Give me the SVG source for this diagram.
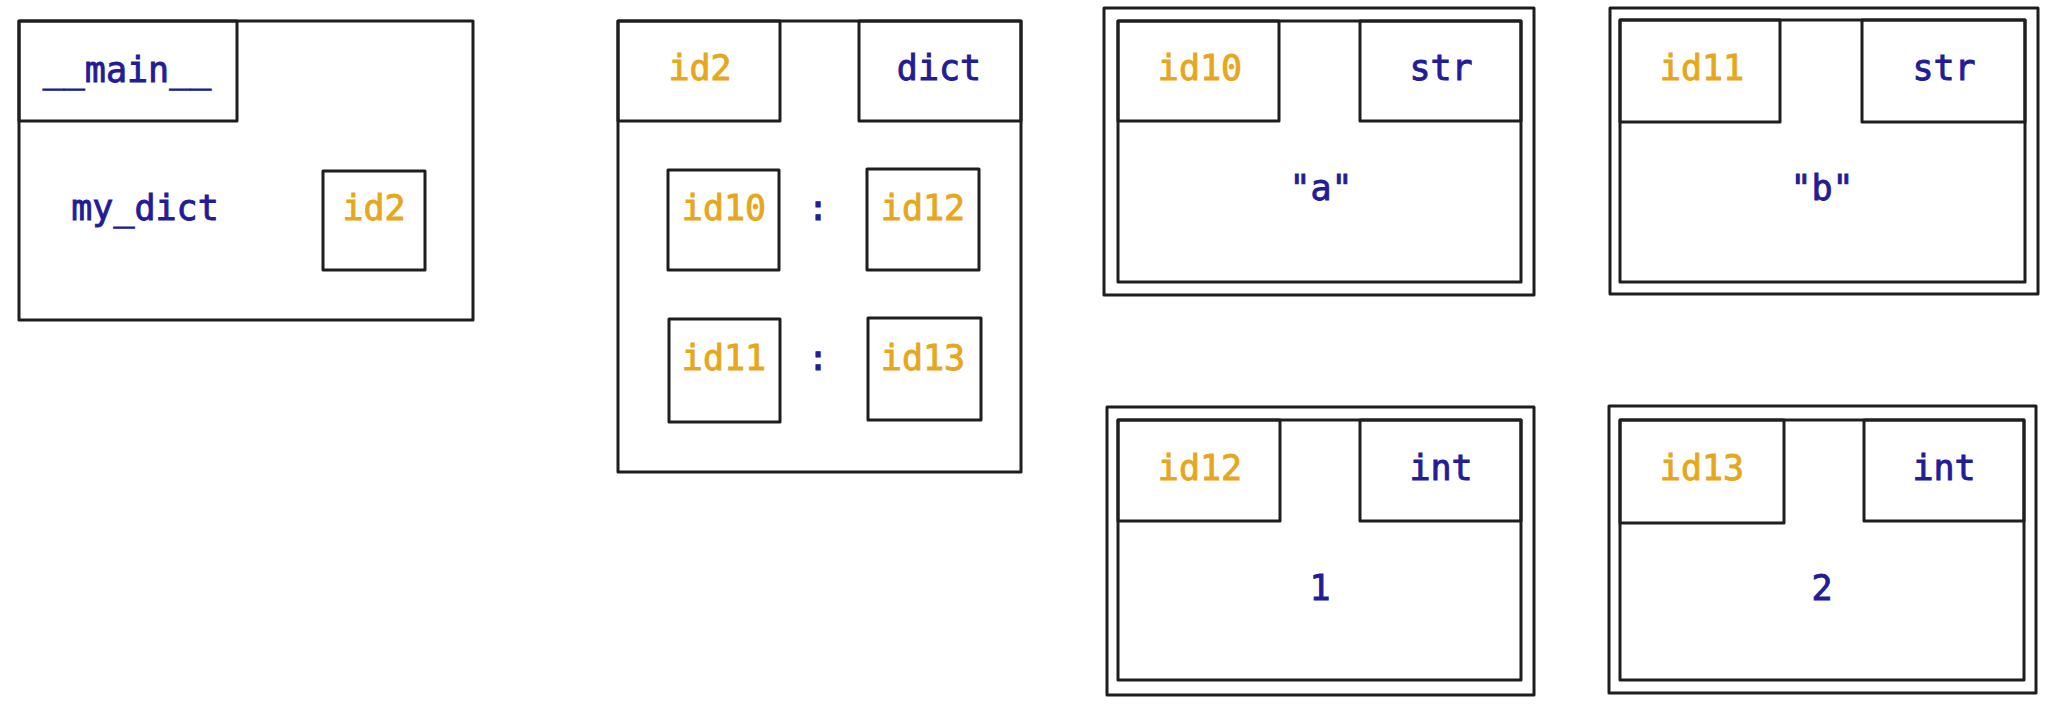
<svg xmlns="http://www.w3.org/2000/svg" width="2051" height="710" viewBox="0 0 2051 710">
<style>
rect{fill:none;stroke:#1e1e1e;stroke-width:3;stroke-linejoin:round}
text{font-family:"DejaVu Sans Mono","Liberation Mono",monospace;font-size:35px;text-anchor:middle;stroke-width:0.9}
.o{fill:#e6a71c;stroke:#e6a71c}
.b{fill:#231c96;stroke:#231c96}
</style>
<rect x="0" y="0" width="2051" height="710" style="fill:#ffffff;stroke:none"/>
<g id="connectors"></g>
<g id="main">
<rect x="19" y="21" width="454" height="299"/>
<rect x="19" y="21" width="218" height="100"/>
<text class="b" x="127" y="82">__main__</text>
<text class="b" x="145" y="220">my_dict</text>
<rect x="323" y="171" width="102" height="99"/>
<text class="o" x="374" y="220">id2</text>
</g>
<g id="dict">
<rect x="618" y="21" width="403" height="451"/>
<rect x="618" y="21" width="162" height="100"/>
<text class="o" x="700" y="80">id2</text>
<rect x="859" y="21" width="162" height="100"/>
<text class="b" x="939" y="80">dict</text>
<rect x="668" y="170" width="111" height="100"/>
<text class="o" x="724" y="220">id10</text>
<text class="b" x="818" y="220">:</text>
<rect x="867" y="169" width="112" height="101"/>
<text class="o" x="923" y="220">id12</text>
<rect x="669" y="319" width="111" height="103"/>
<text class="o" x="724" y="370">id11</text>
<text class="b" x="818" y="370">:</text>
<rect x="868" y="318" width="113" height="102"/>
<text class="o" x="923" y="370">id13</text>
</g>
<g id="str_a">
<rect x="1104" y="8" width="430" height="287"/>
<rect x="1118" y="21" width="403" height="261"/>
<rect x="1118" y="21" width="161" height="100"/>
<text class="o" x="1200" y="80">id10</text>
<rect x="1360" y="21" width="161" height="100"/>
<text class="b" x="1441" y="80">str</text>
<text class="b" x="1321" y="200">"a"</text>
</g>
<g id="str_b">
<rect x="1610" y="8" width="428" height="286"/>
<rect x="1620" y="20" width="405" height="262"/>
<rect x="1620" y="20" width="160" height="102"/>
<text class="o" x="1702" y="80">id11</text>
<rect x="1862" y="20" width="163" height="102"/>
<text class="b" x="1944" y="80">str</text>
<text class="b" x="1822" y="200">"b"</text>
</g>
<g id="int_1">
<rect x="1107" y="407" width="427" height="288"/>
<rect x="1118" y="420" width="403" height="260"/>
<rect x="1118" y="420" width="162" height="101"/>
<text class="o" x="1200" y="480">id12</text>
<rect x="1360" y="420" width="161" height="101"/>
<text class="b" x="1441" y="480">int</text>
<text class="b" x="1320" y="600">1</text>
</g>
<g id="int_2">
<rect x="1609" y="406" width="427" height="287"/>
<rect x="1620" y="420" width="404" height="260"/>
<rect x="1620" y="420" width="164" height="103"/>
<text class="o" x="1702" y="480">id13</text>
<rect x="1864" y="420" width="160" height="101"/>
<text class="b" x="1944" y="480">int</text>
<text class="b" x="1822" y="600">2</text>
</g>
</svg>
